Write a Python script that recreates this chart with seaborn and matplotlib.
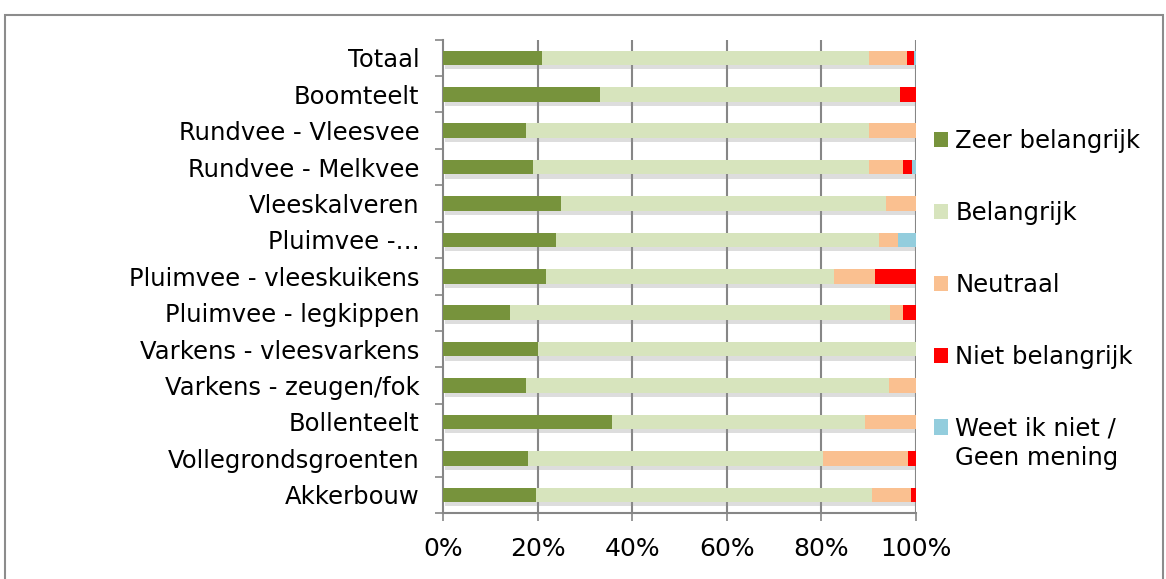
import numpy as np
import pandas as pd
import matplotlib
matplotlib.use('Agg')
import matplotlib.pyplot as plt
import matplotlib.patheffects as pe
from matplotlib.patches import Patch, Rectangle
from matplotlib.ticker import FixedLocator, FuncFormatter
import seaborn as sns

# ── Data (percentages) ────────────────────────────────────────────────────────
sectors = ['Totaal', 'Boomteelt', 'Rundvee - Vleesvee', 'Rundvee - Melkvee',
           'Vleeskalveren', 'Pluimvee -…', 'Pluimvee - vleeskuikens',
           'Pluimvee - legkippen', 'Varkens - vleesvarkens',
           'Varkens - zeugen/fok', 'Bollenteelt', 'Vollegrondsgroenten',
           'Akkerbouw']
zeer_belangrijk = [20.9, 33.2, 17.5, 19.1, 25.0, 23.9, 21.7, 14.2, 20.0, 17.6, 35.7, 18.0, 19.6]
belangrijk      = [69.2, 63.5, 72.6, 71.0, 68.7, 68.2, 61.0, 80.2, 80.0, 76.6, 53.6, 62.4, 71.2]
neutraal        = [7.9, 0.0, 9.9, 7.2, 6.3, 4.0, 8.6, 2.8, 0.0, 5.8, 10.7, 18.0, 8.2]
niet_belangrijk = [1.6, 3.3, 0.0, 1.8, 0.0, 0.0, 8.7, 2.8, 0.0, 0.0, 0.0, 1.6, 1.0]
weet_niet       = [0.4, 0.0, 0.0, 0.9, 0.0, 3.9, 0.0, 0.0, 0.0, 0.0, 0.0, 0.0, 0.0]

series_names  = ['Zeer belangrijk', 'Belangrijk', 'Neutraal', 'Niet belangrijk',
                 'Weet ik niet /']
last_line     = 'Geen mening'
series_colors = ['#77933C', '#D7E4BD', '#FAC090', '#FF0000', '#93CDDD']
xticks = [0, 20, 40, 60, 80, 100]

# ── Cumulative table for stacking ─────────────────────────────────────────────
df = pd.DataFrame({'Sector': sectors,
                   's0': zeer_belangrijk, 's1': belangrijk, 's2': neutraal,
                   's3': niet_belangrijk, 's4': weet_niet})
cols = ['s0', 's1', 's2', 's3', 's4']
cum = df[cols].cumsum(axis=1)
cum['Sector'] = df['Sector']

# ── Figure ────────────────────────────────────────────────────────────────────
sns.set_style('white')
plt.rcParams['font.family'] = ['DejaVu Sans']
plt.rcParams['text.color'] = 'black'
plt.rcParams['xtick.labelcolor'] = 'black'
plt.rcParams['ytick.labelcolor'] = 'black'

W, H = 1166, 579
fig = plt.figure(figsize=(W / 100, H / 100), dpi=100)
ax = fig.add_axes([443 / W, 1 - 513 / H, 473 / W, (513 - 39.6) / H])

grid_col = '#868686'
ax.grid(False)
for v in xticks[1:]:
    ax.axvline(v, color=grid_col, lw=1.5, zorder=0)

# draw longest (cumulative) first, then overlay shorter ones
for i in reversed(range(len(cols))):
    sns.barplot(data=cum, x=cols[i], y='Sector', order=sectors,
                color=series_colors[i], saturation=1, width=0.4, linewidth=0,
                orient='h', errorbar=None, ax=ax, zorder=2 + (len(cols) - i))
    if i == len(cols) - 1:
        for p in ax.patches:
            p.set_path_effects([pe.SimplePatchShadow(offset=(1.5, -3),
                                                     shadow_rgbFace='#909090',
                                                     alpha=0.3),
                                pe.Normal()])

ax.set_xlim(0, 100)
ax.set_ylim(len(sectors) - 0.5, -0.5)
ax.set_xlabel('')
ax.set_ylabel('')

ax.xaxis.set_major_locator(FixedLocator(xticks))
ax.xaxis.set_major_formatter(FuncFormatter(lambda v, _: f'{v:.0f}%'))
ax.tick_params(axis='x', which='major', bottom=True, length=6, width=1.2,
               color=grid_col, labelsize=18, pad=11, direction='out')

ax.yaxis.set_minor_locator(FixedLocator(np.arange(-0.5, len(sectors), 1.0)))
ax.tick_params(axis='y', which='major', left=False, length=0, labelsize=17.5, pad=17)
ax.tick_params(axis='y', which='minor', left=True, length=6, width=1.2,
               color=grid_col, direction='out')

for side in ['top', 'right']:
    ax.spines[side].set_visible(False)
for side in ['left', 'bottom']:
    ax.spines[side].set_color(grid_col)
    ax.spines[side].set_linewidth(1.5)

# ── Legend ────────────────────────────────────────────────────────────────────
handles = [Patch(facecolor=c, edgecolor='none') for c in series_colors]
leg = fig.legend(handles, series_names, loc='upper left',
                 bbox_to_anchor=(934 / W, 1 - 129 / H), frameon=False,
                 fontsize=17.5, handlelength=0.58, handleheight=0.58,
                 handletextpad=0.3, labelspacing=1.97, borderpad=0,
                 borderaxespad=0)

# second line of the last legend entry, placed under its first line
fig.canvas.draw()
bb = leg.get_texts()[-1].get_window_extent().transformed(fig.transFigure.inverted())
fig.text(bb.x0, bb.y0 - 5 / H, last_line, fontsize=17.5, ha='left', va='top')

# ── Outer frame ───────────────────────────────────────────────────────────────
fig.patches.append(Rectangle((5 / W, -0.05), (1163 - 5) / W, 1.05 - 15 / H,
                             transform=fig.transFigure, fill=False,
                             edgecolor='#8C8C8C', lw=1.5))

fig.savefig('out.png', dpi=100)
